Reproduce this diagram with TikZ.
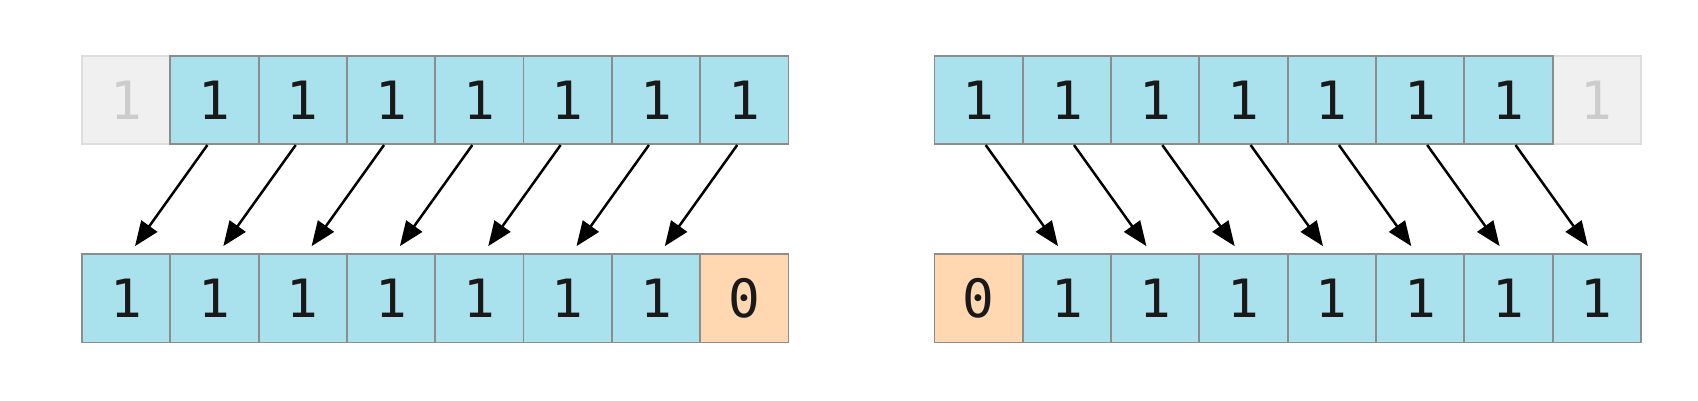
\documentclass[tikz,border=0pt]{standalone}
\usepackage{fontspec}
\setmonofont{DejaVu Sans Mono}
\usetikzlibrary{arrows.meta,calc}
\definecolor{bitblue}{HTML}{A9E1EC}
\definecolor{bitorange}{HTML}{FFD7B0}
\definecolor{bitgray}{HTML}{F0F0F0}
\definecolor{bitedge}{HTML}{8C8C8C}
\tikzstyle{cell} = [rectangle, minimum size=1cm, inner sep=0pt, draw=bitedge, line width=0.6pt, fill=bitblue, text=black!90, font=\ttfamily\fontsize{17}{17}\selectfont]
\tikzstyle{zero} = [cell, fill=bitorange]
\tikzstyle{lost} = [cell, fill=bitgray, draw=black!13, text=black!20]
\tikzstyle{arrow} = [line width=0.8pt, -{Triangle[length=2.8mm,width=2.2mm]}]

\begin{document}
\begin{tikzpicture}
\useasboundingbox (0,0) rectangle (19.23,-4.53);
% shift left
\node (t0) at (1.429,-1.132) [lost] {1};
\node (t1) at (2.429,-1.132) [cell] {1};
\node (t2) at (3.429,-1.132) [cell] {1};
\node (t3) at (4.429,-1.132) [cell] {1};
\node (t4) at (5.429,-1.132) [cell] {1};
\node (t5) at (6.429,-1.132) [cell] {1};
\node (t6) at (7.429,-1.132) [cell] {1};
\node (t7) at (8.429,-1.132) [cell] {1};
\node (b0) at (1.429,-3.378) [cell] {1};
\node (b1) at (2.429,-3.378) [cell] {1};
\node (b2) at (3.429,-3.378) [cell] {1};
\node (b3) at (4.429,-3.378) [cell] {1};
\node (b4) at (5.429,-3.378) [cell] {1};
\node (b5) at (6.429,-3.378) [cell] {1};
\node (b6) at (7.429,-3.378) [cell] {1};
\node (b7) at (8.429,-3.378) [zero] {0};
\draw[arrow] ($(t1.south)+(-0.08,0)$) to ($(b0.north)+(0.1,0.08)$);
\draw[arrow] ($(t2.south)+(-0.08,0)$) to ($(b1.north)+(0.1,0.08)$);
\draw[arrow] ($(t3.south)+(-0.08,0)$) to ($(b2.north)+(0.1,0.08)$);
\draw[arrow] ($(t4.south)+(-0.08,0)$) to ($(b3.north)+(0.1,0.08)$);
\draw[arrow] ($(t5.south)+(-0.08,0)$) to ($(b4.north)+(0.1,0.08)$);
\draw[arrow] ($(t6.south)+(-0.08,0)$) to ($(b5.north)+(0.1,0.08)$);
\draw[arrow] ($(t7.south)+(-0.08,0)$) to ($(b6.north)+(0.1,0.08)$);
    \begin{scope}[xshift=9.654cm]
% shift right
\node (t7) at (8.429,-1.132) [lost] {1};
\node (t0) at (1.429,-1.132) [cell] {1};
\node (t1) at (2.429,-1.132) [cell] {1};
\node (t2) at (3.429,-1.132) [cell] {1};
\node (t3) at (4.429,-1.132) [cell] {1};
\node (t4) at (5.429,-1.132) [cell] {1};
\node (t5) at (6.429,-1.132) [cell] {1};
\node (t6) at (7.429,-1.132) [cell] {1};
\node (b0) at (1.429,-3.378) [zero] {0};
\node (b1) at (2.429,-3.378) [cell] {1};
\node (b2) at (3.429,-3.378) [cell] {1};
\node (b3) at (4.429,-3.378) [cell] {1};
\node (b4) at (5.429,-3.378) [cell] {1};
\node (b5) at (6.429,-3.378) [cell] {1};
\node (b6) at (7.429,-3.378) [cell] {1};
\node (b7) at (8.429,-3.378) [cell] {1};
\draw[arrow] ($(t0.south)+(0.08,0)$) to ($(b1.north)+(-0.1,0.08)$);
\draw[arrow] ($(t1.south)+(0.08,0)$) to ($(b2.north)+(-0.1,0.08)$);
\draw[arrow] ($(t2.south)+(0.08,0)$) to ($(b3.north)+(-0.1,0.08)$);
\draw[arrow] ($(t3.south)+(0.08,0)$) to ($(b4.north)+(-0.1,0.08)$);
\draw[arrow] ($(t4.south)+(0.08,0)$) to ($(b5.north)+(-0.1,0.08)$);
\draw[arrow] ($(t5.south)+(0.08,0)$) to ($(b6.north)+(-0.1,0.08)$);
\draw[arrow] ($(t6.south)+(0.08,0)$) to ($(b7.north)+(-0.1,0.08)$);
    \end{scope}
\end{tikzpicture}
\end{document}
